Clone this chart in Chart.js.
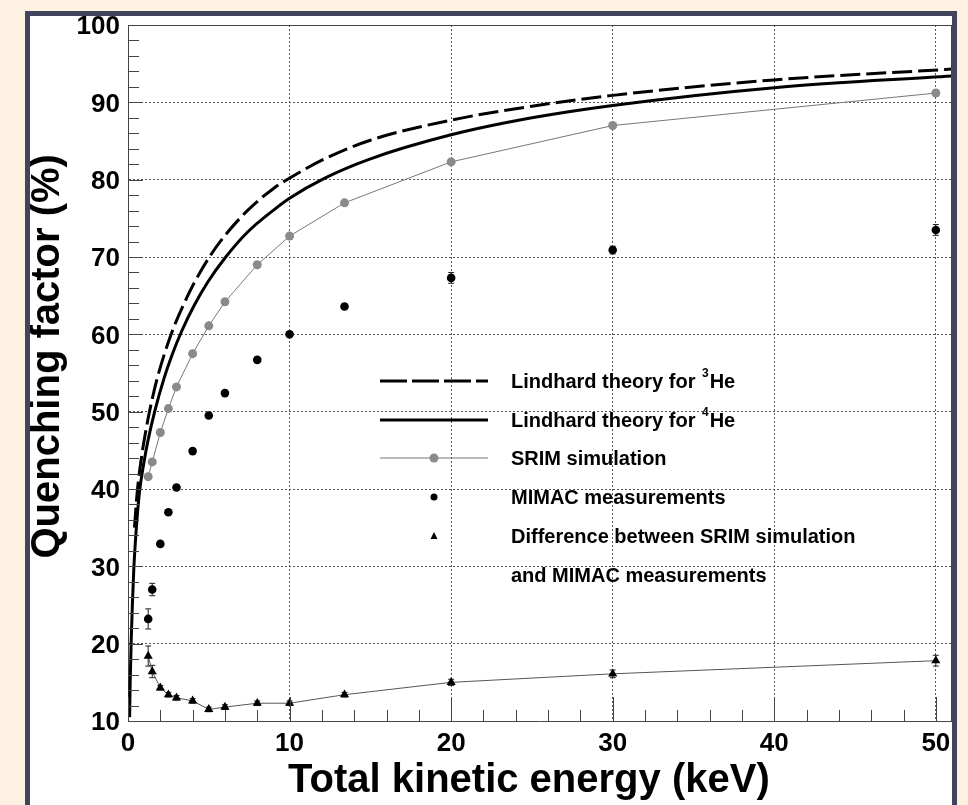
<!DOCTYPE html>
<html>
<head>
<meta charset="utf-8">
<script src="https://cdn.jsdelivr.net/npm/chart.js@4.4.1/dist/chart.umd.min.js"></script>
<style>
  body { margin: 0; background: #fdf2e1; overflow: hidden; }
  #frame { position: absolute; left: 25px; top: 11px; width: 922px; height: 800px;
           border: 5px solid #42445e; border-bottom: none; background: #fff; }
  #box { position: relative; width: 922px; height: 789px; }
</style>
</head>
<body>
<div id="frame"><div id="box"><canvas id="c"></canvas></div></div>
<script>
// measured points (keV, %)
const energy   = [1.25, 1.5, 2, 2.5, 3, 4, 5, 6, 8, 10, 13.4, 20, 30, 50];
const srim     = [41.6, 43.5, 47.3, 50.4, 53.2, 57.5, 61.1, 64.2, 69.0, 72.7, 77.0, 82.3, 87.0, 91.2];
const mimac    = [23.2, 27.0, 32.9, 37.0, 40.2, 44.9, 49.5, 52.4, 56.7, 60.0, 63.6, 67.3, 70.9, 73.5];
const mimacErr = [1.3, 0.8, 0.3, 0.3, 0.3, 0.3, 0.3, 0.3, 0.3, 0.3, 0.3, 0.7, 0.5, 0.7];
const diff     = [18.4, 16.4, 14.3, 13.4, 13.0, 12.6, 11.5, 11.8, 12.3, 12.3, 13.4, 15.0, 16.1, 17.8];
const diffErr  = [1.3, 0.8, 0.3, 0.3, 0.3, 0.3, 0.3, 0.3, 0.3, 0.3, 0.3, 0.4, 0.5, 0.7];

// Lindhard curves
const he3Energy = [0.4, 0.57, 0.9, 1.0, 1.33, 1.82, 2.67, 3.32, 4.06, 5.1, 6.05, 7.39, 9.03, 10, 12.18, 15, 20, 25, 30, 40, 51];
const he3Quench = [35, 39.6, 45, 46.3, 50, 54.4, 60, 63.3, 66.5, 70.2, 72.9, 76.0, 78.9, 80.2, 82.7, 85.1, 87.7, 89.5, 90.9, 92.9, 94.3];
const he4Energy = [0.1, 0.135, 0.2, 0.27, 0.36, 0.5, 0.71, 1.0, 1.22, 1.65, 2.23, 2.72, 3.32, 4.06, 4.95, 6.05, 7.39, 9.03, 10, 12.18, 14.88, 20, 25, 30, 40, 51];
const he4Quench = [10.5, 15, 20.5, 25, 29.7, 34.5, 39.6, 43.6, 46.1, 50, 54.3, 57.3, 60.4, 63.6, 66.8, 70.0, 73.2, 76.1, 77.6, 80.2, 82.6, 85.8, 88.0, 89.6, 91.9, 93.4];

const xTickLabels = [0, 10, 20, 30, 40, 50];
const yTickLabels = [10, 20, 30, 40, 50, 60, 70, 80, 90, 100];

const FONT = '"Liberation Sans", Arial, sans-serif';
const pts = (xs, ys) => xs.map((x, i) => ({ x, y: ys[i] }));

const datasets = [
  { label: 'Lindhard theory for ³He', data: pts(he3Energy, he3Quench), showLine: true,
    borderColor: '#000', borderWidth: 3, borderDash: [20, 6], pointRadius: 0,
    cubicInterpolationMode: 'monotone', legendLine: true },
  { label: 'Lindhard theory for ⁴He', data: pts(he4Energy, he4Quench), showLine: true,
    borderColor: '#000', borderWidth: 3, pointRadius: 0,
    cubicInterpolationMode: 'monotone', legendLine: true },
  { label: 'SRIM simulation', data: pts(energy, srim), showLine: true,
    borderColor: '#777', borderWidth: 1, pointRadius: 4.5, pointBorderWidth: 0,
    pointBackgroundColor: '#8a8a8a', legendLine: true, legendMarker: 'circle' },
  { label: 'MIMAC measurements', data: pts(energy, mimac), showLine: false,
    pointRadius: 4.3, pointBorderWidth: 0, pointBackgroundColor: '#000',
    errors: mimacErr, legendMarker: 'circle' },
  { label: ['Difference between SRIM simulation', 'and MIMAC measurements'],
    data: pts(energy, diff), showLine: true, borderColor: '#555', borderWidth: 1,
    pointStyle: 'triangle', pointRadius: 5.3, pointBorderWidth: 0, pointBackgroundColor: '#000',
    errors: diffErr, legendMarker: 'triangle' }
];

// error bars with small caps
const errorBars = {
  id: 'errorBars',
  beforeDatasetsDraw(chart) {
    const { ctx, scales: { x, y } } = chart;
    ctx.save();
    ctx.strokeStyle = '#222';
    ctx.lineWidth = 1;
    chart.data.datasets.forEach(ds => {
      if (!ds.errors) return;
      ds.data.forEach((p, i) => {
        const px = x.getPixelForValue(p.x);
        const y1 = y.getPixelForValue(p.y - ds.errors[i]);
        const y2 = y.getPixelForValue(p.y + ds.errors[i]);
        ctx.beginPath();
        ctx.moveTo(px, y1); ctx.lineTo(px, y2);
        ctx.moveTo(px - 3, y1); ctx.lineTo(px + 3, y1);
        ctx.moveTo(px - 3, y2); ctx.lineTo(px + 3, y2);
        ctx.stroke();
      });
    });
    ctx.restore();
  }
};

// ROOT-style inward ticks + box
const frameTicks = {
  id: 'frameTicks',
  afterDraw(chart) {
    const { ctx, chartArea: a, scales: { x, y } } = chart;
    ctx.save();
    ctx.strokeStyle = '#444';
    ctx.lineWidth = 1;
    ctx.beginPath();
    for (let v = x.min; v <= x.max; v += 2) {
      const px = Math.round(x.getPixelForValue(v)) + 0.5;
      const len = v % 10 === 0 ? 24 : 11;
      ctx.moveTo(px, a.bottom); ctx.lineTo(px, a.bottom - len);
    }
    for (let v = y.min; v <= y.max; v += 2) {
      const py = Math.round(y.getPixelForValue(v)) + 0.5;
      const len = v % 10 === 0 ? 15 : 11;
      ctx.moveTo(a.left, py); ctx.lineTo(a.left + len, py);
    }
    ctx.moveTo(a.left, a.top + 0.5); ctx.lineTo(a.right, a.top + 0.5);
    ctx.moveTo(a.right - 0.5, a.top); ctx.lineTo(a.right - 0.5, a.bottom);
    ctx.stroke();
    ctx.restore();
  }
};

function drawRich(ctx, text, x, y, size) {
  let cx = x;
  for (const ch of text) {
    const sup = ch === '³' ? '3' : ch === '⁴' ? '4' : null;
    if (sup) {
      ctx.font = 'bold ' + Math.round(size * 0.6) + 'px ' + FONT;
      ctx.fillText(sup, cx + 1, y - size * 0.42);
      cx += ctx.measureText(sup).width + 2;
    } else {
      ctx.font = 'bold ' + size + 'px ' + FONT;
      ctx.fillText(ch, cx, y);
      cx += ctx.measureText(ch).width;
    }
  }
}

// legend drawn inside the frame
const boxLegend = {
  id: 'boxLegend',
  afterDraw(chart) {
    const ctx = chart.ctx;
    const lineX0 = 350, lineX1 = 458, markX = 404, textX = 481;
    const rows = [365, 404, 442, 481, 520];
    const size = 20;
    ctx.save();
    ctx.textBaseline = 'middle';
    ctx.fillStyle = '#000';
    chart.data.datasets.forEach((ds, i) => {
      const ly = rows[i];
      if (ds.legendLine) {
        ctx.save();
        ctx.strokeStyle = ds.borderColor;
        ctx.lineWidth = ds.borderWidth;
        ctx.setLineDash(ds.borderDash ? [27, 5] : []);
        ctx.beginPath();
        ctx.moveTo(lineX0, ly); ctx.lineTo(lineX1, ly);
        ctx.stroke();
        ctx.restore();
      }
      if (ds.legendMarker === 'circle') {
        ctx.fillStyle = ds.pointBackgroundColor;
        ctx.beginPath();
        ctx.arc(markX, ly, ds.legendLine ? 4.5 : 3.5, 0, Math.PI * 2);
        ctx.fill();
      } else if (ds.legendMarker === 'triangle') {
        ctx.fillStyle = ds.pointBackgroundColor;
        ctx.beginPath();
        ctx.moveTo(markX, ly - 4); ctx.lineTo(markX + 3.5, ly + 3); ctx.lineTo(markX - 3.5, ly + 3);
        ctx.closePath();
        ctx.fill();
      }
      ctx.fillStyle = '#000';
      const lines = Array.isArray(ds.label) ? ds.label : [ds.label];
      lines.forEach((t, k) => drawRich(ctx, t, textX, ly + 1 + k * 39, size));
    });
    ctx.restore();
  }
};

new Chart(document.getElementById('c'), {
  type: 'scatter',
  data: { datasets },
  options: {
    responsive: true,
    maintainAspectRatio: false,
    animation: false,
    layout: { autoPadding: false, padding: { top: 9, right: 0, left: 0, bottom: 0 } },
    plugins: { legend: { display: false }, tooltip: { enabled: false } },
    scales: {
      x: {
        type: 'linear', min: 0, max: 51,
        afterBuildTicks: s => { s.ticks = xTickLabels.map(v => ({ value: v })); },
        afterFit: s => { s.height = 84; s.paddingLeft = 0; s.paddingRight = 0; },
        grid: { color: '#555', lineWidth: 1, drawTicks: false },
        border: { display: true, color: '#444', width: 1, dash: [2, 2] },
        ticks: { color: '#000', padding: 7, font: { family: FONT, size: 26, weight: 'bold' } },
        title: { display: true, text: 'Total kinetic energy (keV)  ', color: '#000',
                 font: { family: FONT, size: 40, weight: 'bold', lineHeight: 1 },
                 padding: { top: 0, bottom: 4 } }
      },
      y: {
        type: 'linear', min: 10, max: 100,
        afterBuildTicks: s => { s.ticks = yTickLabels.map(v => ({ value: v })); },
        afterFit: s => { s.width = 98; s.paddingTop = 0; s.paddingBottom = 0; },
        grid: { color: '#555', lineWidth: 1, drawTicks: false },
        border: { display: true, color: '#444', width: 1, dash: [2, 2] },
        ticks: { color: '#000', padding: 8, labelOffset: 2,
                 font: { family: FONT, size: 26, weight: 'bold' } },
        title: { display: true, text: '   Quenching factor (%)', color: '#000',
                 font: { family: FONT, size: 40, weight: 'bold', lineHeight: 1 },
                 padding: { top: -2, bottom: 0 } }
      }
    }
  },
  plugins: [errorBars, frameTicks, boxLegend]
});
</script>
</body>
</html>
